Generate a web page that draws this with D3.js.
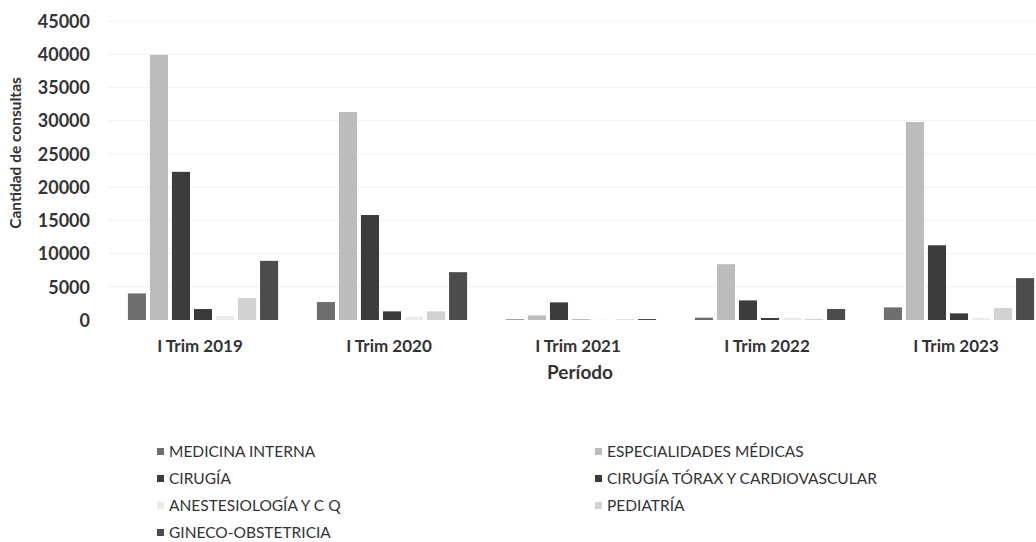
<!DOCTYPE html>
<html>
<head>
<meta charset="utf-8">
<script src="https://cdn.jsdelivr.net/npm/d3@7"></script>
<style>
  html, body { margin: 0; padding: 0; background: #fff; }
  svg { display: block; }
</style>
</head>
<body>
<div id="chart"></div>
<script>
// Données
const periods = ['I Trim 2019', 'I Trim 2020', 'I Trim 2021', 'I Trim 2022', 'I Trim 2023'];
const series = [
  'MEDICINA INTERNA', 'ESPECIALIDADES MÉDICAS', 'CIRUGÍA',
  'CIRUGÍA TÓRAX Y CARDIOVASCULAR', 'ANESTESIOLOGÍA Y C Q', 'PEDIATRÍA',
  'GINECO-OBSTETRICIA'
];
const medicinaInterna = [4000, 2700, 100, 350, 1900];
const especialidades  = [39900, 31300, 700, 8400, 29800];
const cirugia         = [22300, 15800, 2650, 2950, 11250];
const cirugiaTorax    = [1650, 1300, 50, 300, 1000];
const anestesiologia  = [600, 500, 50, 300, 300];
const pediatria       = [3300, 1300, 100, 150, 1800];
const gineco          = [8900, 7200, 150, 1650, 6300];
const yTicks = [0, 5000, 10000, 15000, 20000, 25000, 30000, 35000, 40000, 45000];

const values = [medicinaInterna, especialidades, cirugia, cirugiaTorax, anestesiologia, pediatria, gineco];
const rows = periods.map((p, i) => ({ period: p, vals: series.map((s, j) => ({ key: s, v: values[j][i] })) }));

const W = 1036, H = 542;
const FONT = 'Lato, "Open Sans", sans-serif';
const INK = '#333';

const svg = d3.select('#chart').append('svg')
  .attr('width', W).attr('height', H)
  .attr('viewBox', `0 0 ${W} ${H}`);

const color = d3.scaleOrdinal()
  .domain(series)
  .range(['#6e6e6e', '#bcbcbc', '#3c3c3c', '#3a3a3a', '#ebebeb', '#d2d2d2', '#4c4c4c']);

// Le tracé déborde à droite comme sur le scan
const x0 = d3.scaleBand().domain(periods).range([108.5, 1053.5]).padding(0);
const x1 = d3.scaleBand().domain(series).range([0, x0.bandwidth()])
  .paddingInner(0.18).paddingOuter(0.88);
const y = d3.scaleLinear().domain([0, 45000]).range([320, 21]);

// Grille très pâle
svg.append('g').selectAll('line')
  .data(yTicks.filter(d => d > 0))
  .join('line')
  .attr('x1', 108).attr('x2', W)
  .attr('y1', d => y(d)).attr('y2', d => y(d))
  .attr('stroke', '#f1f1f1').attr('stroke-width', 1);

// Axe Y (étiquettes seules)
const yAxis = svg.append('g')
  .attr('transform', 'translate(90,0)')
  .call(d3.axisLeft(y).tickValues(yTicks).tickSize(0).tickPadding(0).tickFormat(d3.format('d')));
yAxis.select('.domain').remove();
yAxis.selectAll('text')
  .attr('font-family', FONT).attr('font-size', 18).attr('font-weight', 700)
  .attr('fill', INK).attr('dy', '0.35em');

// Barres
svg.append('g').selectAll('g')
  .data(rows)
  .join('g')
  .attr('transform', d => `translate(${x0(d.period)},0)`)
  .selectAll('rect')
  .data(d => d.vals)
  .join('rect')
  .attr('x', d => x1(d.key))
  .attr('width', x1.bandwidth())
  .attr('y', d => y(d.v))
  .attr('height', d => y(0) - y(d.v))
  .attr('fill', d => color(d.key));

// Axe X
const xAxis = svg.append('g')
  .attr('transform', `translate(-3,${y(0)})`)
  .call(d3.axisBottom(x0).tickSize(0).tickPadding(20));
xAxis.select('.domain').remove();
xAxis.selectAll('text')
  .attr('font-family', FONT).attr('font-size', 17).attr('font-weight', 700)
  .attr('fill', INK);

// Titres d'axes
svg.append('text')
  .attr('x', 580).attr('y', 379)
  .attr('text-anchor', 'middle')
  .attr('font-family', FONT).attr('font-size', 19).attr('font-weight', 700)
  .attr('fill', INK)
  .text('Período');

svg.append('text')
  .attr('transform', 'translate(21,153) rotate(-90)')
  .attr('text-anchor', 'middle')
  .attr('font-family', FONT).attr('font-size', 15.5).attr('font-weight', 700)
  .attr('fill', INK)
  .text('Cantidad de consultas');

// Légende sur deux colonnes, ordre par ligne
const legend = svg.append('g');
series.forEach((s, i) => {
  const col = i % 2, row = Math.floor(i / 2);
  const lx = col === 0 ? 157 : 595;
  const ly = 452 + row * 27;
  legend.append('rect')
    .attr('x', lx).attr('y', ly - 4)
    .attr('width', 7).attr('height', 7)
    .attr('fill', color(s));
  legend.append('text')
    .attr('x', lx + 12).attr('y', ly)
    .attr('dy', '0.35em')
    .attr('font-family', FONT).attr('font-size', 15.5)
    .attr('fill', INK)
    .text(s);
});
</script>
</body>
</html>
